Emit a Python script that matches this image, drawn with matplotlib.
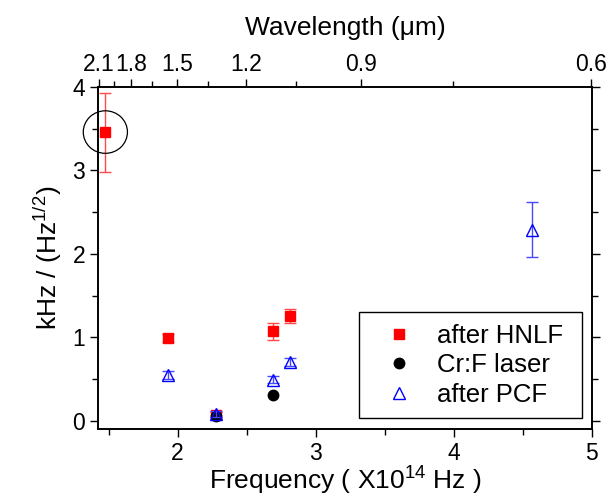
import matplotlib
matplotlib.use("Agg")
import matplotlib.pyplot as plt
from matplotlib.lines import Line2D
from matplotlib.patches import Ellipse

plt.rcParams['font.family'] = ['Liberation Sans', 'DejaVu Sans']
plt.rcParams['mathtext.fontset'] = 'custom'
plt.rcParams['mathtext.rm'] = 'Liberation Sans'
plt.rcParams['mathtext.it'] = 'Liberation Sans:italic'

# Data (frequency in 1e14 Hz, noise in kHz/Hz^1/2)
freq_hnlf = [1.477, 1.930, 2.276, 2.694, 2.815]
val_hnlf = [3.455, 0.99, 0.07, 1.07, 1.255]
err_hnlf = [0.475, 0.05, 0.03, 0.10, 0.08]

freq_crf = [2.276, 2.694]
val_crf = [0.06, 0.31]

freq_pcf = [1.930, 2.276, 2.694, 2.815, 4.565]
val_pcf = [0.55, 0.08, 0.49, 0.70, 2.29]
err_pcf = [0.05, 0.04, 0.04, 0.05, 0.33]

wl_major = [2.1, 1.8, 1.5, 1.2, 0.9, 0.6]
wl_labels = ['2.1', '1.8', '1.5', '1.2', '0.9', '0.6']
wl_minor = [1.95, 1.65, 1.35, 1.05, 0.75]
C_UM = 2.998  # c in (um * 1e14 Hz)

legend_labels = ['after HNLF', 'Cr:F laser', 'after PCF']

fig = plt.figure(figsize=(6.08, 5.01), dpi=100)
ax = fig.add_axes([0.1617, 0.1437, 0.8115, 0.6826])

ax.errorbar(freq_hnlf, val_hnlf, yerr=err_hnlf, fmt='s', color='red', ms=7.5,
            ecolor='#ff4848', elinewidth=1, capsize=4, capthick=1, zorder=3)
ax.plot(freq_crf, val_crf, 'o', color='black', ms=7.5, zorder=4)
ax.errorbar(freq_pcf, val_pcf, yerr=err_pcf, fmt='^', mfc='none', mec='blue', mew=1,
            ms=9, ecolor='#4848ff', elinewidth=1, capsize=4, capthick=1, zorder=5)

ax.add_patch(Ellipse((1.477, 3.46), 0.320, 0.51, fill=False, edgecolor='black',
                     lw=0.9, zorder=6, clip_on=False))

ax.set_xlim(1.426, 5.0)
ax.set_ylim(-0.1, 4.0)
ax.set_xticks([2, 3, 4, 5])
ax.set_xticks([1.5, 2.5, 3.5, 4.5], minor=True)
ax.set_yticks([0, 1, 2, 3, 4])
ax.set_yticks([0.5, 1.5, 2.5, 3.5], minor=True)
ax.tick_params(axis='both', which='major', direction='out', length=6, width=1, labelsize=16.5)
ax.tick_params(axis='both', which='minor', direction='out', length=4, width=1)
ax.tick_params(axis='y', which='both', right=True, labelright=False)
for sp in ax.spines.values():
    sp.set_linewidth(1.2)

ax.set_xlabel('Frequency ( X10$^{14}$ Hz )', fontsize=19, labelpad=0)
ax.set_ylabel('kHz / (Hz$^{1/2}$)', fontsize=19, labelpad=6)

# Top wavelength axis
ax2 = ax.twiny()
ax2.set_xlim(ax.get_xlim())
ax2.set_xticks([C_UM / w for w in wl_major])
ax2.set_xticklabels(wl_labels)
ax2.set_xticks([C_UM / w for w in wl_minor], minor=True)
ax2.tick_params(axis='x', which='major', direction='out', length=6, width=1, labelsize=16.5, pad=2)
ax2.tick_params(axis='x', which='minor', direction='out', length=4, width=1)
ax2.set_xlabel('Wavelength (μm)', fontsize=19, labelpad=13)
for sp in ax2.spines.values():
    sp.set_linewidth(1.2)

handles = [
    Line2D([], [], ls='none', marker='s', color='red', ms=7.5),
    Line2D([], [], ls='none', marker='o', color='black', ms=7.5),
    Line2D([], [], ls='none', marker='^', mfc='none', mec='blue', mew=1, ms=9),
]
leg = ax.legend(handles, legend_labels, loc='lower left', mode='expand',
                bbox_to_anchor=(0.529, 0.031, 0.452, 0.3),
                borderaxespad=0, fontsize=18.5, frameon=True, fancybox=False,
                edgecolor='black', framealpha=1, handlelength=2.17, handletextpad=0.39,
                labelspacing=0.2, borderpad=0.46)
leg.get_frame().set_linewidth(1)
leg.set_zorder(10)

fig.savefig('out.png', dpi=100)
